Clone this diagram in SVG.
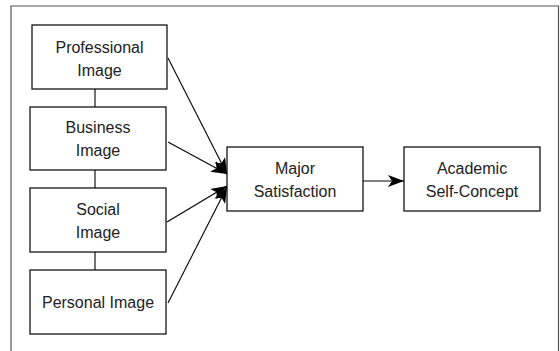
<svg xmlns="http://www.w3.org/2000/svg" width="560" height="351" viewBox="0 0 560 351">
<defs>
<style>
.box{fill:#fff;stroke:#000;stroke-width:1.2}
.t{font-family:"Liberation Sans",Arial,sans-serif;font-size:16px;fill:#222;text-anchor:middle}
.c{stroke:#000;stroke-width:1.1;fill:none}
</style>
<marker id="ah" viewBox="0 0 16 12" refX="16" refY="6" markerWidth="16" markerHeight="12" markerUnits="userSpaceOnUse" orient="auto">
<path d="M0,0 L16,6 L0,12 L4,6 Z" fill="#000"/>
</marker>
</defs>
<rect width="560" height="351" fill="#fff"/>
<path d="M11,351 L11,6 L558.5,6 L558.5,351" fill="none" stroke="#555" stroke-width="1.2"/>
<g id="connectors">
<line class="c" x1="95" y1="89" x2="95" y2="107"/>
<line class="c" x1="95" y1="170" x2="95" y2="188"/>
<line class="c" x1="95" y1="252" x2="95" y2="270"/>
<line class="c" x1="168" y1="58" x2="227" y2="174" marker-end="url(#ah)"/>
<line class="c" x1="168" y1="142" x2="227" y2="174" marker-end="url(#ah)"/>
<line class="c" x1="167" y1="222" x2="227" y2="186" marker-end="url(#ah)"/>
<line class="c" x1="168" y1="303" x2="227" y2="187" marker-end="url(#ah)"/>
<line class="c" x1="363" y1="181" x2="404" y2="181" marker-end="url(#ah)"/>
</g>
<g id="professional">
<rect class="box" x="32" y="25" width="135" height="64"/>
<text class="t" x="99.5" y="53">Professional</text>
<text class="t" x="99.5" y="76">Image</text>
</g>
<g id="business">
<rect class="box" x="30" y="107" width="136" height="63"/>
<text class="t" x="98" y="133">Business</text>
<text class="t" x="98" y="156">Image</text>
</g>
<g id="social">
<rect class="box" x="30" y="188" width="136" height="64"/>
<text class="t" x="98" y="215">Social</text>
<text class="t" x="98" y="238">Image</text>
</g>
<g id="personal">
<rect class="box" x="30" y="270" width="136" height="64"/>
<text class="t" x="98" y="308">Personal  Image</text>
</g>
<g id="major">
<rect class="box" x="227" y="147" width="136" height="64"/>
<text class="t" x="295" y="174">Major</text>
<text class="t" x="295" y="197">Satisfaction</text>
</g>
<g id="academic">
<rect class="box" x="404" y="147" width="136" height="64"/>
<text class="t" x="472" y="174">Academic</text>
<text class="t" x="472" y="197">Self-Concept</text>
</g>
</svg>
